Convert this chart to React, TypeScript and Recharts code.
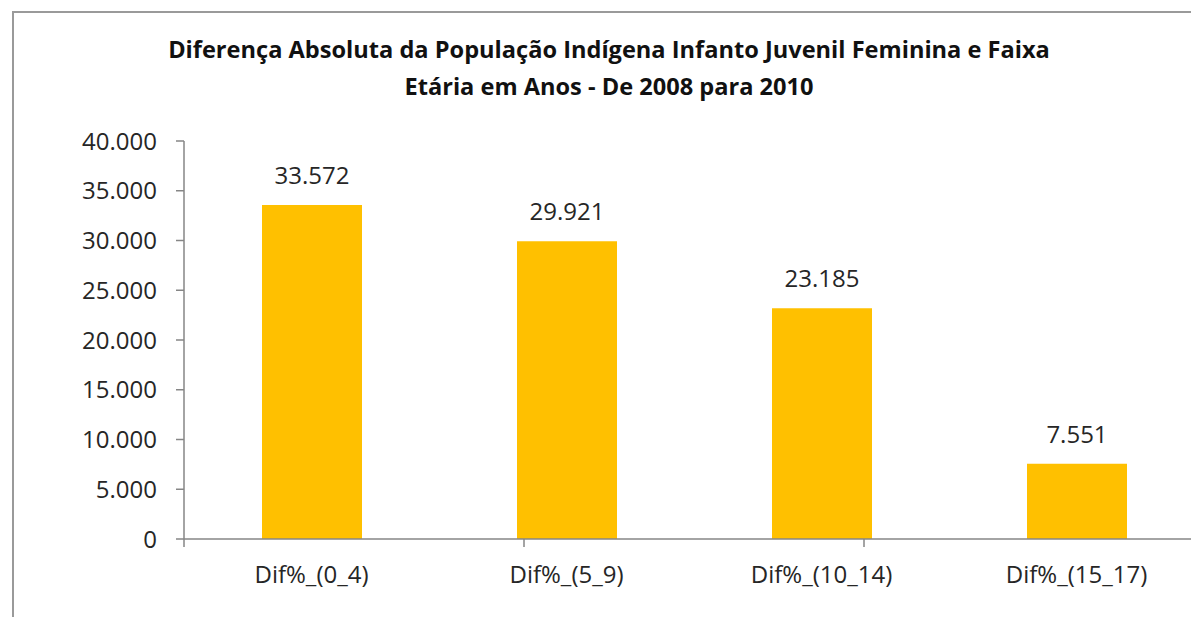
import React from 'react';
import { BarChart, Bar, XAxis, YAxis, LabelList } from 'recharts';

// Faixas etárias e diferença absoluta (2008 -> 2010)
const categories = ['Dif%_(0_4)', 'Dif%_(5_9)', 'Dif%_(10_14)', 'Dif%_(15_17)'];
const values = [33572, 29921, 23185, 7551];
const yTicks = [0, 5000, 10000, 15000, 20000, 25000, 30000, 35000, 40000];
const edgeTicks = [0, 1, 2, 3, 4];

const titleLines = [
    'Diferença Absoluta da População Indígena Infanto Juvenil Feminina e Faixa',
    'Etária em Anos - De 2008 para 2010',
];

const data = categories.map((name, i) => ({ name, value: values[i] }));

// 33572 -> "33.572"
const fmt = (v: number) => String(v).replace(/\B(?=(\d{3})+(?!\d))/g, '.');

const FONT = '"Open Sans", sans-serif';
const TEXT = '#262626';
const AXIS = '#868686';

const NoLabel = () => <g />;

const App: React.FC = () => {
    return (
        <div style={{ position: 'absolute', left: 0, top: 0, width: 1191, height: 617, overflow: 'hidden', background: '#fff', fontFamily: FONT }}>
            {/* chart frame */}
            <div style={{ position: 'absolute', left: 12, top: 11, width: 1300, height: 700, border: '2px solid #9a9a9a' }} />

            {titleLines.map((t, i) => (
                <div
                    key={i}
                    style={{
                        position: 'absolute',
                        left: 609,
                        top: 33 + i * 37,
                        transform: 'translateX(-50%)',
                        whiteSpace: 'nowrap',
                        fontSize: 23.6,
                        fontWeight: 700,
                        lineHeight: '32px',
                        color: '#111',
                    }}
                >
                    {t}
                </div>
            ))}

            <div style={{ position: 'absolute', left: 0, top: 0 }}>
                <BarChart
                    width={1230}
                    height={617}
                    data={data}
                    margin={{ top: 141, right: 26, left: 0, bottom: 38 }}
                    barCategoryGap={0}
                >
                    <YAxis
                        width={184}
                        domain={[0, 40000]}
                        ticks={yTicks}
                        interval={0}
                        tickFormatter={fmt}
                        tickSize={8}
                        tickMargin={19}
                        axisLine={{ stroke: AXIS, strokeWidth: 1.5 }}
                        tickLine={{ stroke: AXIS, strokeWidth: 1.5 }}
                        tick={{ fill: TEXT, fontSize: 24, fontFamily: FONT }}
                    />
                    {/* category boundary ticks + axis line */}
                    <XAxis
                        xAxisId={0}
                        type="number"
                        domain={[0, 4]}
                        ticks={edgeTicks}
                        interval={0}
                        height={1}
                        allowDataOverflow
                        axisLine={{ stroke: AXIS, strokeWidth: 1.5 }}
                        tickSize={8}
                        tickLine={{ stroke: AXIS, strokeWidth: 1.5 }}
                        tick={NoLabel}
                    />
                    <XAxis
                        xAxisId="cat"
                        dataKey="name"
                        height={39}
                        interval={0}
                        tickSize={0}
                        tickMargin={26}
                        tickLine={false}
                        axisLine={false}
                        tick={{ fill: TEXT, fontSize: 24, fontFamily: FONT }}
                    />
                    <Bar xAxisId="cat" dataKey="value" fill="#FFC000" barSize={100} isAnimationActive={false}>
                        <LabelList
                            dataKey="value"
                            position="top"
                            offset={21}
                            formatter={(v: any) => fmt(Number(v))}
                            style={{ fill: TEXT, fontSize: 24, fontFamily: FONT }}
                        />
                    </Bar>
                </BarChart>
            </div>
        </div>
    );
};

export default App;
